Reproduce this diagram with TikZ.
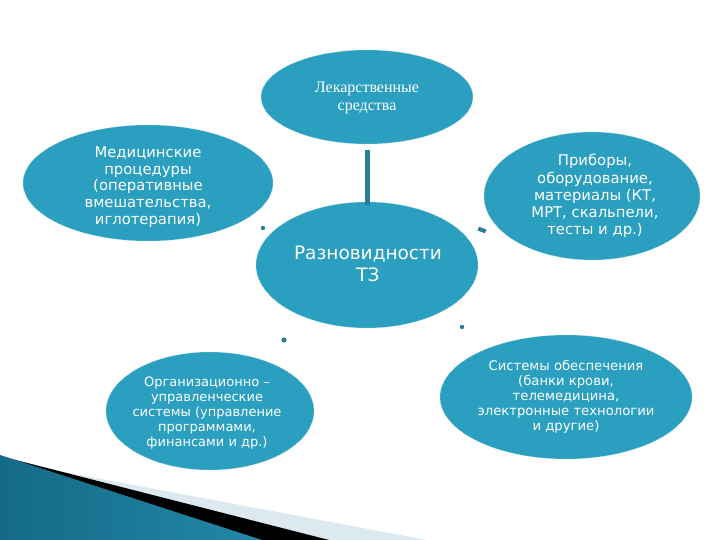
\documentclass[tikz,border=0pt]{standalone}
\usepackage{fontspec}
\setmainfont{DejaVu Sans}
\newfontfamily\serifr{Liberation Serif}
\usetikzlibrary{shapes.geometric,calc}
\definecolor{tealc}{HTML}{2A9FBF}
\definecolor{bardark}{HTML}{2A7E96}
\definecolor{lightband}{HTML}{DCEAF0}
\definecolor{tdark}{HTML}{146A86}
\definecolor{tlight}{HTML}{4DB4D6}
\definecolor{tmid}{HTML}{2288A8}
\begin{document}
\begin{tikzpicture}[x=1pt,y=-1pt,
  oval/.style={ellipse, fill=tealc, draw=tealc!35!white, densely dotted, line width=0.6pt, inner sep=0pt},
  txt/.style={text=white, align=center, font=\fontsize{14.8}{16.8}\selectfont},
  bar/.style={draw=bardark, line width=5pt},
  dotm/.style={fill=bardark}]
\useasboundingbox (0,0) rectangle (720,540);
% bottom-left decoration
\fill[lightband] (0,460) -- (427,540) -- (0,540) -- cycle;
\fill[black] (0,456) -- (329,540) -- (0,540) -- cycle;
\shade[left color=tdark, middle color=tlight, right color=tmid] (0,455) -- (262,540) -- (0,540) -- cycle;
% ellipses
\node[oval, minimum width=212pt, minimum height=94pt] (drug) at (367,97) {};
\node[oval, minimum width=250pt, minimum height=116pt] (proc) at (148,183) {};
\node[oval, minimum width=216pt, minimum height=128pt] (devi) at (592,196) {};
\node[oval, minimum width=222pt, minimum height=126pt] (core) at (367,265) {};
\node[oval, minimum width=208pt, minimum height=118pt] (orgs) at (210,411) {};
\node[oval, minimum width=252pt, minimum height=124pt] (supp) at (566,397) {};
% texts
\node[txt, font=\serifr\fontsize{16}{17.5}\selectfont] at (367,98) {Лекарственные\\средства};
\node[txt] at (148,187) {Медицинские\\процедуры\\(оперативные\\вмешательства,\\иглотерапия)};
\node[txt, font=\fontsize{14.8}{17.2}\selectfont] at (595,196) {Приборы,\\оборудование,\\материалы (КТ,\\МРТ, скальпели,\\тесты и др.)};
\node[txt, font=\fontsize{18.5}{22}\selectfont] at (368,264) {Разновидности\\ТЗ};
\node[txt, font=\fontsize{13}{15}\selectfont] at (207,413) {Организационно –\\управленческие\\системы (управление\\программами,\\финансами и др.)};
\node[txt, font=\fontsize{13.2}{15}\selectfont] at (566,397) {Системы обеспечения\\(банки крови,\\телемедицина,\\электронные технологии\\и другие)};
% connector
\draw[bar, shorten <=6pt, shorten >=-3pt] (drug) -- (core);
% connector remnants
\coordinate (d1) at (263,228);
\coordinate (d2) at (482,230);
\coordinate (d3) at (284,340);
\coordinate (d4) at (462,327);
\fill[dotm] (d1) circle (2.2pt);
\fill[dotm, rotate around={-20:(d2)}] ($(d2)+(-4,-2)$) rectangle ($(d2)+(4,2)$);
\fill[dotm] (d3) circle (2.6pt);
\fill[dotm] (d4) circle (2.2pt);
\end{tikzpicture}
\end{document}
